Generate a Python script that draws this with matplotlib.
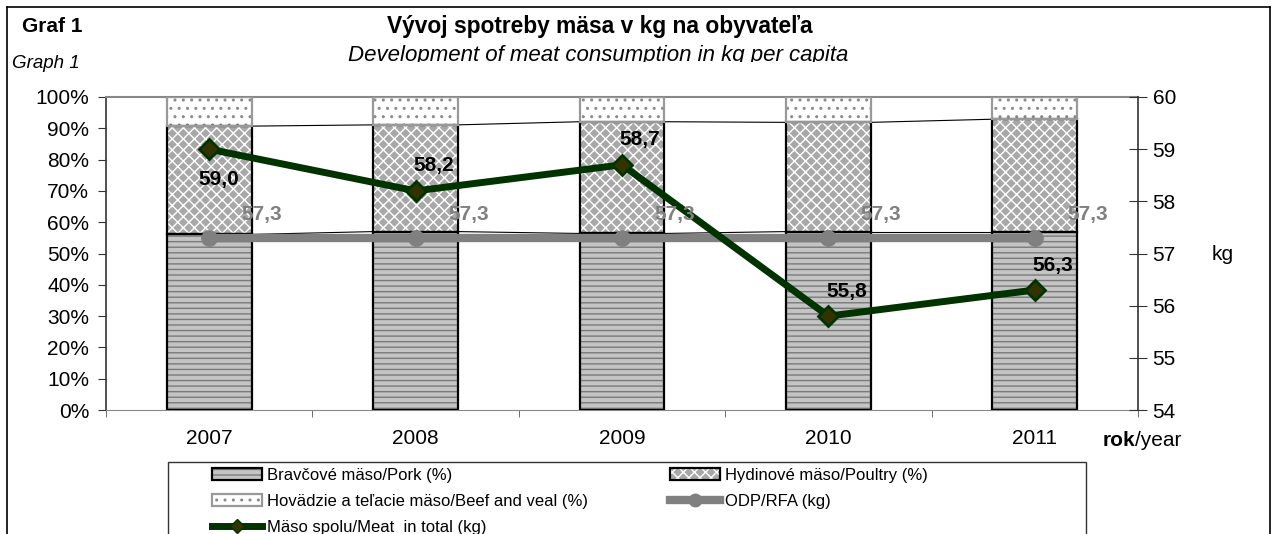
import matplotlib
matplotlib.use("Agg")
import matplotlib.pyplot as plt
from matplotlib.patches import Patch, Rectangle
from matplotlib.lines import Line2D
from matplotlib.transforms import Bbox
import numpy as np

plt.rcParams['font.family'] = ['Liberation Sans', 'DejaVu Sans']
plt.rcParams['hatch.linewidth'] = 1.0

years = ['2007', '2008', '2009', '2010', '2011']
pork = [56.1, 57.0, 56.4, 57.0, 57.0]
poultry = [34.6, 34.1, 35.7, 34.9, 35.9]
beef = [9.3, 8.9, 7.9, 8.1, 7.1]
odp = [57.3, 57.3, 57.3, 57.3, 57.3]
meat = [59.0, 58.2, 58.7, 55.8, 56.3]

W, H = 1272, 534
fig = plt.figure(figsize=(W / 100, H / 100), dpi=100)

def px(x0, y0, x1, y1):
    return [x0 / W, 1 - y1 / H, (x1 - x0) / W, (y1 - y0) / H]

ax = fig.add_axes(px(106, 97, 1138, 410))
ax2 = ax.twinx()

x = np.arange(len(years))
bw = 0.41
pork_a = np.array(pork)
poul_a = np.array(poultry)
beef_a = np.array(beef)

# pork
ax.bar(x, pork_a, bw, color='#c4c4c4', edgecolor='#7a7a7a', hatch='---', lw=0, zorder=2)
ax.bar(x, pork_a, bw, fill=False, edgecolor='black', lw=1.6, zorder=3)
# poultry
ax.bar(x, poul_a, bw, bottom=pork_a, color='#a8a8a8', edgecolor='white', hatch='xxx', lw=0, zorder=2)
ax.bar(x, poul_a, bw, bottom=pork_a, fill=False, edgecolor='black', lw=1.6, zorder=3)
# beef
ax.bar(x, beef_a, bw, bottom=pork_a + poul_a, color='white', edgecolor='#8a8a8a', hatch='..', lw=0, zorder=2)
ax.bar(x, beef_a, bw, bottom=pork_a + poul_a, fill=False, edgecolor='#999999', lw=1.6, zorder=3)

# series lines
for tops in (pork_a, pork_a + poul_a):
    for i in range(len(x) - 1):
        ax.plot([x[i] + bw / 2, x[i + 1] - bw / 2], [tops[i], tops[i + 1]],
                color='black', lw=0.8, zorder=1)

ax.set_xlim(-0.5, len(x) - 0.5)
ax.set_ylim(0, 100)
ax.set_yticks(np.arange(0, 101, 10))
ax.set_yticklabels([f'{v}%' for v in range(0, 101, 10)], fontsize=15)
ax.set_xticks(x)
ax.set_xticklabels(years, fontsize=15)
ax.tick_params(axis='x', which='major', length=0, pad=14)
ax.set_xticks(np.arange(-0.5, len(x), 1.0), minor=True)
ax.tick_params(axis='x', which='minor', length=5, direction='out', color='#555555')
ax.tick_params(axis='y', length=6, direction='out', color='#333333', pad=6)

ax.spines['left'].set_color('#333333')
ax.spines['left'].set_linewidth(1.2)
ax.spines['bottom'].set_color('#888888')
ax.spines['top'].set_color('#888888')
ax.spines['top'].set_linewidth(1.5)
ax.spines['right'].set_visible(False)

# right axis
ax2.plot(x, odp, color='#808080', lw=6, marker='o', ms=11, zorder=4)
ax2.plot(x, meat, color='#003300', lw=5, marker='D', ms=10,
         mfc='#333300', mec='#003300', mew=2, zorder=5)
ax2.set_ylim(54, 60)
ax2.set_yticks(range(54, 61))
ax2.set_yticklabels([str(v) for v in range(54, 61)], fontsize=15)
ax2.tick_params(axis='y', length=13, direction='inout', color='#333333', pad=4)
ax2.spines['right'].set_color('#333333')
ax2.spines['right'].set_linewidth(1.2)
for s in ('top', 'bottom', 'left'):
    ax2.spines[s].set_visible(False)

def fmt(v):
    return f'{v:.1f}'.replace('.', ',')

for i, v in enumerate(meat):
    if i == 0:
        off = (7, -22)
    else:
        off = (13, 18)
    ax2.annotate(fmt(v), (x[i], v), xytext=off, textcoords='offset points',
                 ha='center', va='center', fontsize=15, fontweight='bold', color='black', zorder=6)
for i, v in enumerate(odp):
    ax2.annotate(fmt(v), (x[i], v), xytext=(38, 17), textcoords='offset points',
                 ha='center', va='center', fontsize=15, fontweight='bold', color='#808080', zorder=6)

# texts
fig.text(22 / W, 1 - 26 / H, 'Graf 1', fontsize=15, fontweight='bold', ha='left', va='center')
fig.text(12 / W, 1 - 63 / H, 'Graph 1', fontsize=13.5, fontstyle='italic', ha='left', va='center')
fig.text(600 / W, 1 - 26 / H, 'Vývoj spotreby mäsa v kg na obyvateľa', fontsize=16.4,
         fontweight='bold', ha='center', va='center')
sub = fig.text(598 / W, 1 - 56 / H, 'Development of meat consumption in kg per capita', fontsize=16,
               fontstyle='italic', ha='center', va='center')
sub.set_clip_box(Bbox.from_extents(0, H - 62, W, H))
sub.set_clip_on(True)
fig.text(1212 / W, 1 - 255 / H, 'kg', fontsize=15, ha='left', va='center')
fig.text(1103 / W, 1 - 441 / H, 'rok', fontsize=15, fontweight='bold', ha='left', va='center')
fig.text(1135 / W, 1 - 441 / H, '/year', fontsize=15, ha='left', va='center')

# outer frame
fig.add_artist(Line2D([7 / W, 1270 / W], [1 - 7 / H, 1 - 7 / H], color='black', lw=1.2))
fig.add_artist(Line2D([7 / W, 7 / W], [1 - 7 / H, 0], color='black', lw=1.2))
fig.add_artist(Line2D([1270 / W, 1270 / W], [1 - 7 / H, 0], color='black', lw=1.2))

# legend box
fig.add_artist(Rectangle((168 / W, -0.05), (1086 - 168) / W, (1 - 462 / H) + 0.05,
                         transform=fig.transFigure, fill=False, edgecolor='#333333', lw=1.0))

h_pork = (Patch(facecolor='#c4c4c4', edgecolor='#7a7a7a', hatch='---', lw=0),
          Patch(fill=False, edgecolor='black', lw=1.6))
h_poul = (Patch(facecolor='#a8a8a8', edgecolor='white', hatch='xxx', lw=0),
          Patch(fill=False, edgecolor='black', lw=1.6))
h_beef = (Patch(facecolor='white', edgecolor='#8a8a8a', hatch='..', lw=0),
          Patch(fill=False, edgecolor='#999999', lw=1.6))
h_odp = Line2D([], [], color='#808080', lw=6, marker='o', ms=9)
h_meat = Line2D([], [], color='#003300', lw=5, marker='D', ms=7, mfc='#333300', mec='#003300')

leg_kw = dict(frameon=False, fontsize=12, handlelength=3.0, handleheight=0.75,
              handletextpad=0.3, labelspacing=0.65, borderpad=0, borderaxespad=0,
              loc='upper left')
l1 = fig.legend([h_pork, h_beef, h_meat],
                ['Bravčové mäso/Pork (%)', 'Hovädzie a teľacie mäso/Beef and veal (%)',
                 'Mäso spolu/Meat  in total (kg)'],
                bbox_to_anchor=(212 / W, 1 - 468 / H), **leg_kw)
l2 = fig.legend([h_poul, h_odp],
                ['Hydinové mäso/Poultry (%)', 'ODP/RFA (kg)'],
                bbox_to_anchor=(670 / W, 1 - 468 / H), **leg_kw)

fig.savefig('out.png', dpi=100)
